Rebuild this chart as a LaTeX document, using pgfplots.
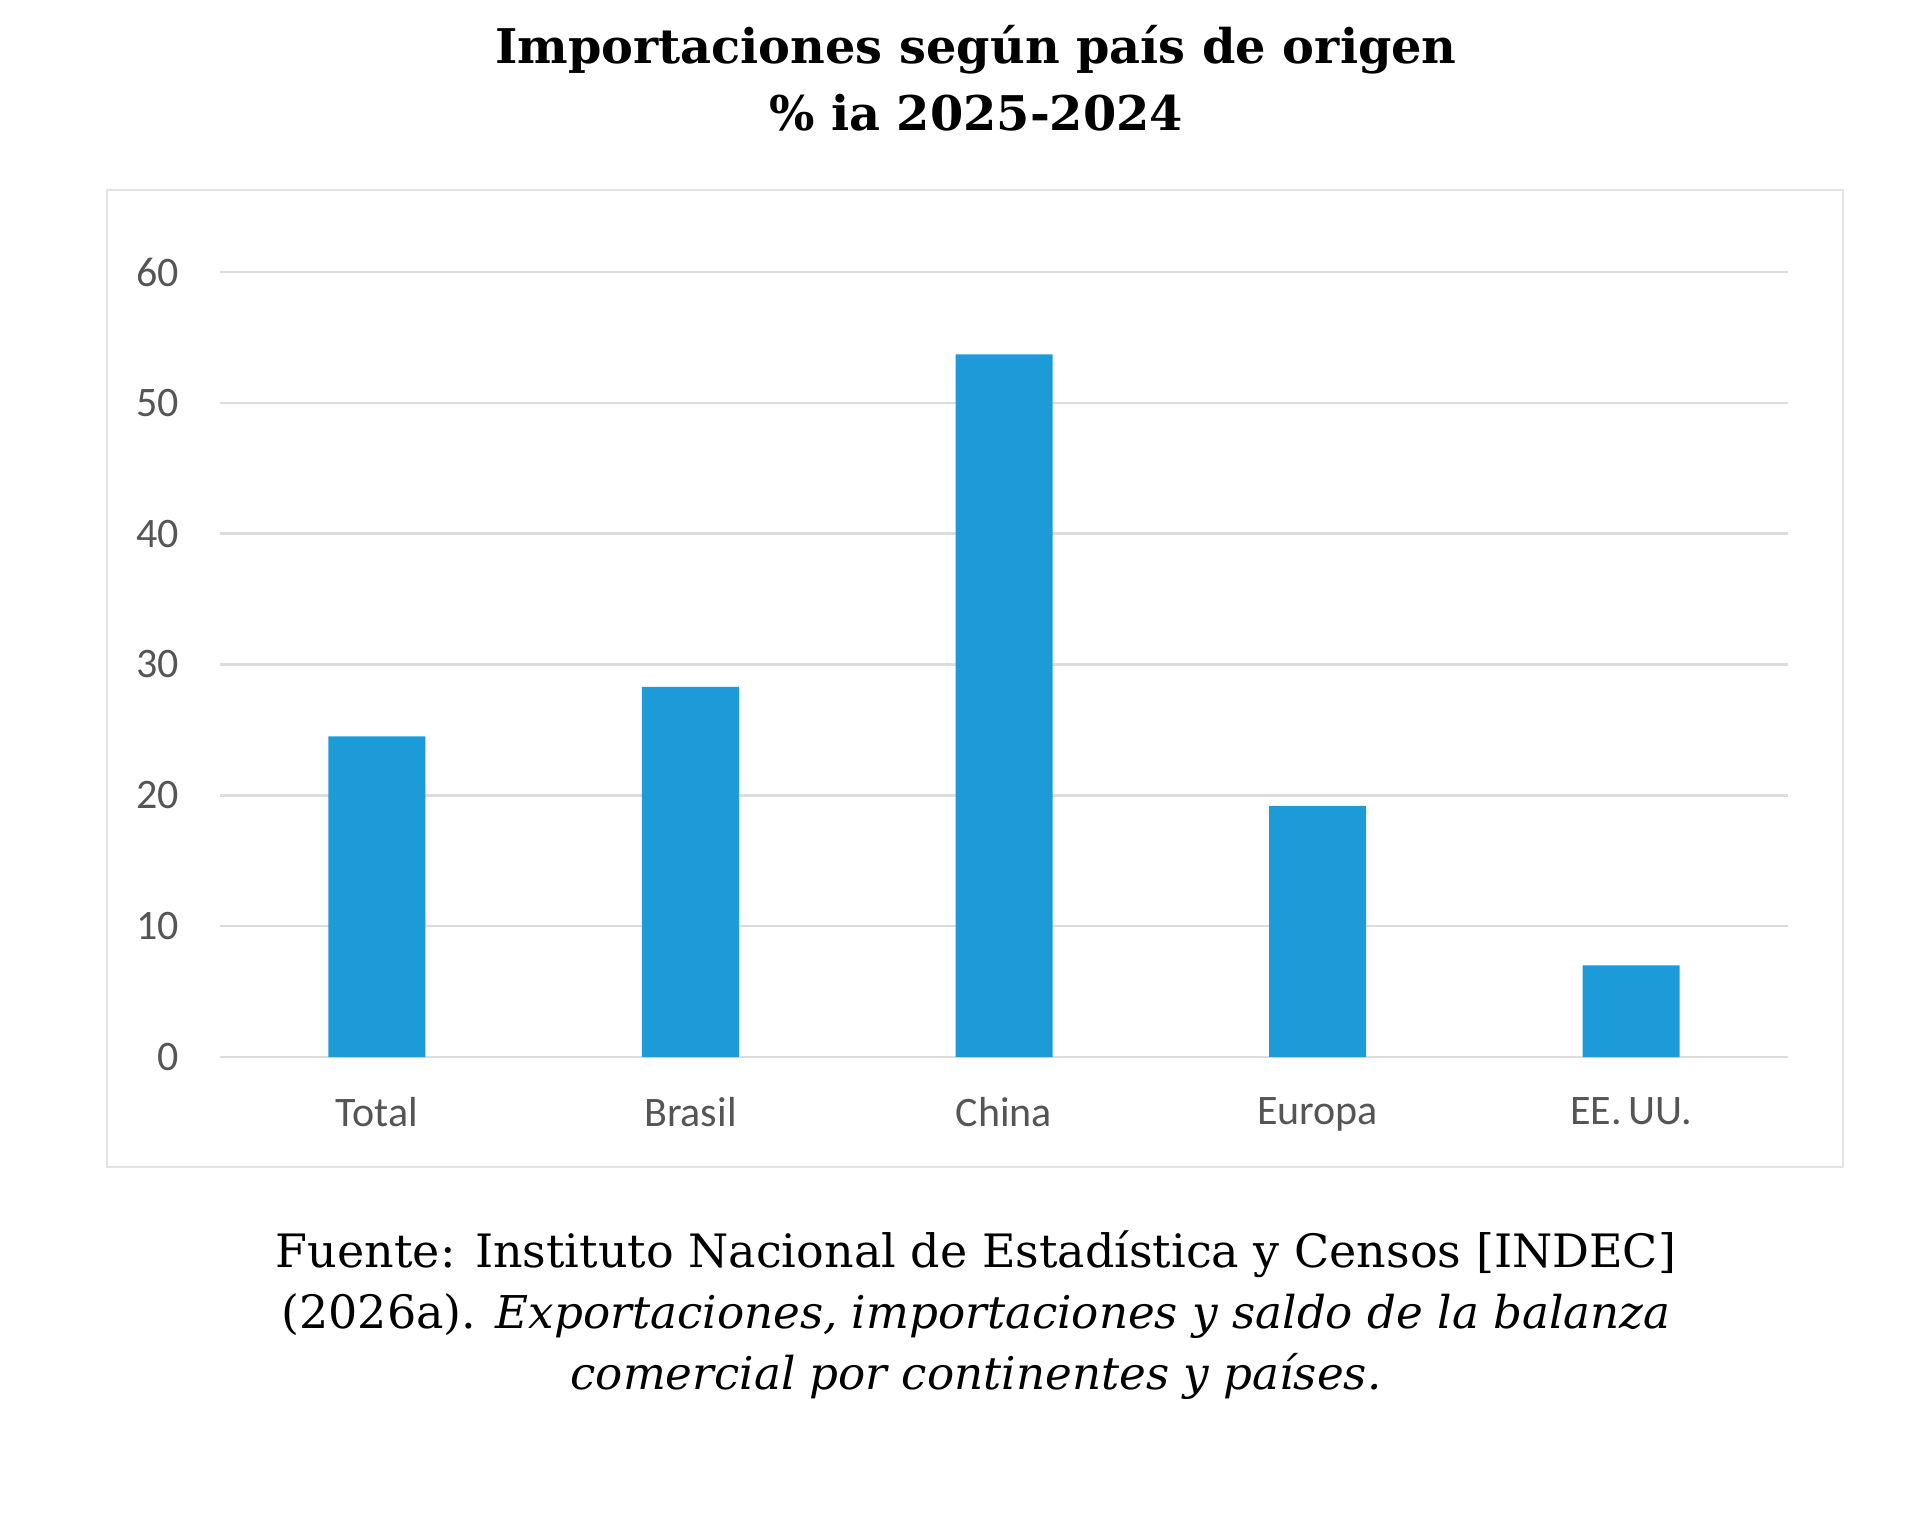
\documentclass[border=0pt]{standalone}
\usepackage{pgfplots}
\pgfplotsset{compat=1.18}
\usepackage{fontspec}
\setmainfont{DejaVu Serif}
\newfontfamily\tickfont{Carlito}

\definecolor{barblue}{HTML}{1D9BD8}
\definecolor{gridgray}{HTML}{DCDCDC}
\definecolor{ticktext}{HTML}{555555}
\definecolor{framegray}{HTML}{E3E3E3}

\newcommand{\srcfont}{\fontsize{11.5}{14}\selectfont}
\newcommand{\srcital}{\itshape\fontsize{11.3}{14}\selectfont}

\begin{document}
\begin{tikzpicture}
\useasboundingbox (0,0) rectangle (480pt,378.25pt);

% chart frame
\draw[framegray, line width=0.6pt] (26.75pt,86.5pt) rectangle (460.75pt,330.75pt);

% title
\node[anchor=base, font=\bfseries\fontsize{11.95}{15}\selectfont] at (244pt,362.3pt)
  {Importaciones según país de origen};
\node[anchor=base, font=\bfseries\fontsize{11.95}{15}\selectfont] at (244pt,345.7pt)
  {\% ia 2025-2024};

\begin{axis}[
  at={(55pt,114pt)}, anchor=south west,
  scale only axis,
  width=392pt, height=196.25pt,
  xmin=-0.5, xmax=4.5,
  ymin=0, ymax=60,
  ytick={0,10,...,60},
  xtick=data,
  xticklabels={Total,Brasil,China,Europa,EE.\,UU.},
  axis line style={draw=none},
  ymajorgrids,
  grid style={gridgray, line width=0.6pt},
  major tick length=0pt,
  ybar, bar width=24.25pt,
  tick label style={font=\tickfont\fontsize{10.5}{12}\selectfont, text=ticktext},
  /pgf/number format/assume math mode=true,
  y tick label style={anchor=east, inner sep=0pt, xshift=-10pt},
  x tick label style={anchor=north, inner sep=0pt, yshift=-10pt},
]
\addplot[fill=barblue, draw=none] coordinates {
  (0,24.5) (1,28.3) (2,53.7) (3,19.2) (4,7.0)
};
\end{axis}

% source note
\node[anchor=base, font=\srcfont] at (244pt,61.5pt)
  {Fuente: Instituto Nacional de Estadística y Censos [INDEC]};
\node[anchor=base, font=\srcfont] at (244pt,46.1pt)
  {(2026a). {\srcital Exportaciones, importaciones y saldo de la balanza}};
\node[anchor=base, font=\srcital] at (244pt,30.75pt)
  {comercial por continentes y países.};
\end{tikzpicture}
\end{document}
